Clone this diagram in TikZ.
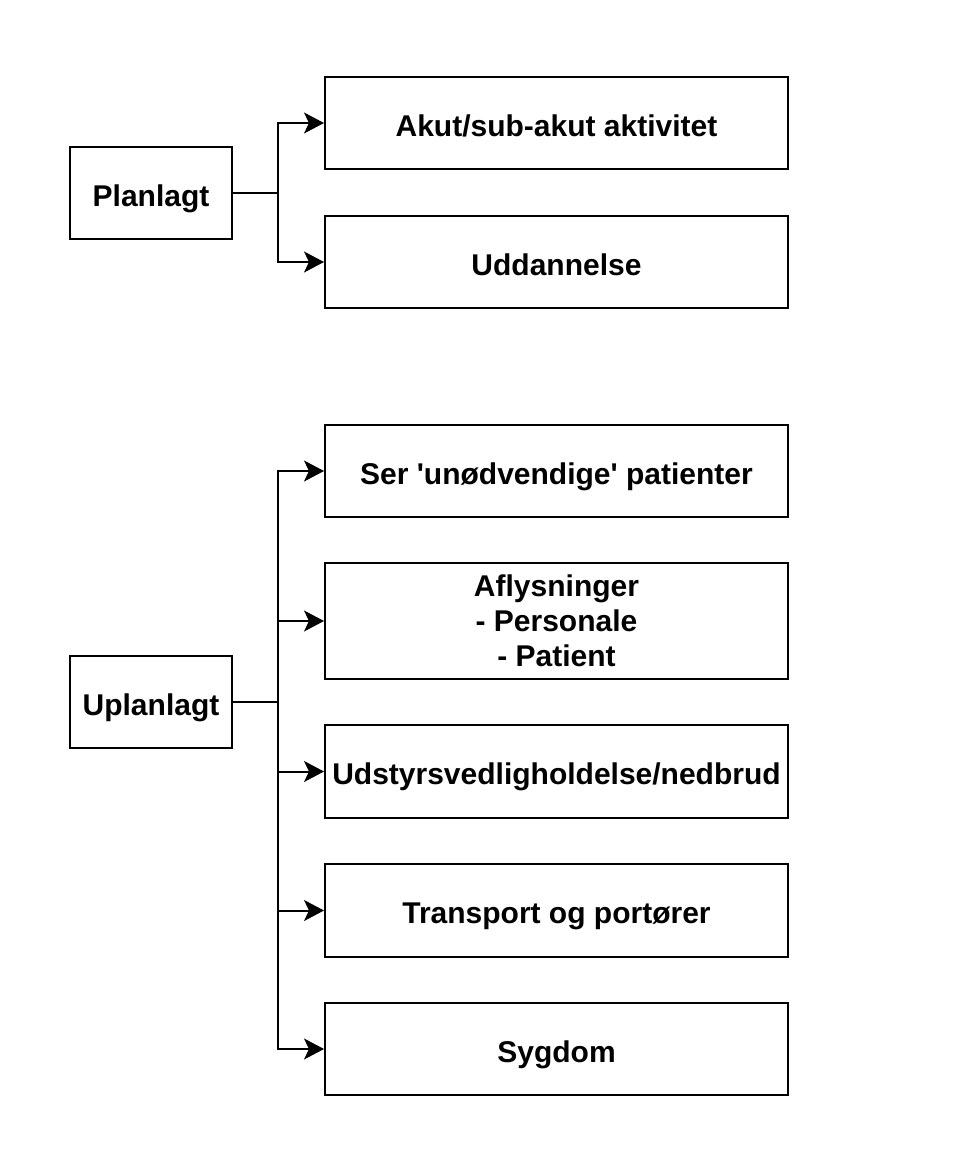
\documentclass[tikz,border=0pt]{standalone}
\usepackage{fontspec}
\setmainfont{Liberation Sans}
\usetikzlibrary{arrows.meta}
\begin{document}
\begin{tikzpicture}[x=0.5pt,y=-0.5pt,
  box/.style={draw=black, line width=1pt, fill=white, inner sep=0pt, font=\fontsize{15}{17.5}\selectfont\bfseries, align=center},
  one/.style={text height=13pt, text depth=0pt},
  conn/.style={line width=1pt, -{Stealth[length=10pt,width=10.5pt,inset=2.5pt,fill=black,line width=0.5pt]}},
  trunk/.style={line width=1pt}]
\useasboundingbox (0,0) rectangle (956,1164);
\node[box, one, minimum width=81pt, minimum height=46pt] (plan) at (151,193) {Planlagt};
\node[box, one, minimum width=231.5pt, minimum height=46pt] (akut) at (556.5,123) {Akut/sub-akut aktivitet};
\node[box, one, minimum width=231.5pt, minimum height=46pt] (udd) at (556.5,262) {Uddannelse};
\node[box, one, minimum width=81pt, minimum height=46pt] (uplan) at (151,702) {Uplanlagt};
\node[box, one, minimum width=231.5pt, minimum height=46pt] (ser) at (556.5,471) {Ser \textquotesingle unødvendige\textquotesingle{} patienter};
\node[box, minimum width=231.5pt, minimum height=58pt] (afl) at (556.5,621) {Aflysninger\\- Personale\\- Patient};
\node[box, one, minimum width=231.5pt, minimum height=46.5pt] (udst) at (556.5,771.5) {Udstyrsvedligholdelse/nedbrud};
\node[box, one, minimum width=231.5pt, minimum height=46.5pt] (trans) at (556.5,910.5) {Transport og portører};
\node[box, one, minimum width=231.5pt, minimum height=46pt] (syg) at (556.5,1049) {Sygdom};
\coordinate (pj) at (278,193);
\coordinate (uj) at (278,702);
\draw[trunk] (plan.east) -- (pj);
\draw[conn] (pj) |- (akut.west);
\draw[conn] (pj) |- (udd.west);
\draw[trunk] (uplan.east) -- (uj);
\draw[conn] (uj) |- (ser.west);
\draw[conn] (uj) |- (afl.west);
\draw[conn] (uj) |- (udst.west);
\draw[conn] (uj) |- (trans.west);
\draw[conn] (uj) |- (syg.west);
\end{tikzpicture}
\end{document}
